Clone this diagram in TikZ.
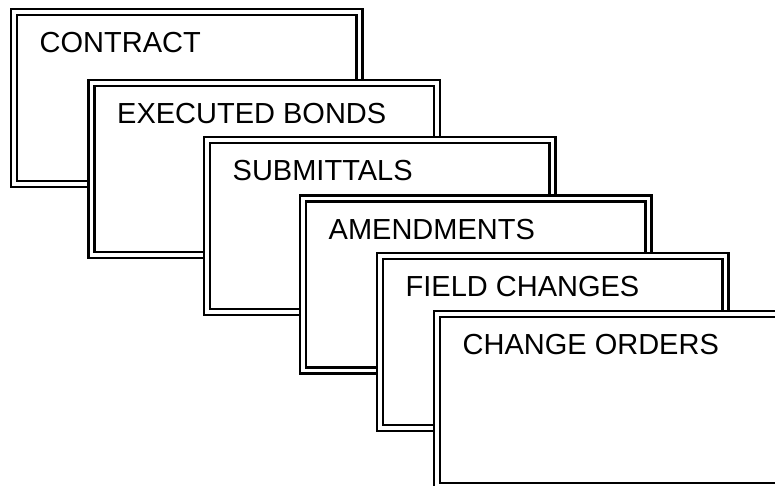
\documentclass[tikz,border=0pt]{standalone}
\usepackage{fontspec}
\setmainfont{Liberation Sans}
\begin{document}
\begin{tikzpicture}[x=1pt,y=-1pt,
  card/.style={draw=black, double=white, double distance=3.8pt, line width=2.2pt,
    fill=white, anchor=north west, minimum width=345.5pt, minimum height=172pt,
    inner sep=0pt, outer sep=0pt},
  cardtext/.style={anchor=base west, inner sep=0pt, font=\fontsize{29}{34}\selectfont}]
\useasboundingbox (0,0) rectangle (775,485);
\clip (0,0) rectangle (775,485);
\node[card] (b1) at (14,12) {};
\node[cardtext] (t1) at ([shift={(25.5pt,-40.5pt)}]b1.north west) {CONTRACT};
\node[card] (b2) at (91.5,83) {};
\node[cardtext] (t2) at ([shift={(25.5pt,-40.5pt)}]b2.north west) {EXECUTED BONDS};
\node[card] (b3) at (207,140) {};
\node[cardtext] (t3) at ([shift={(25.5pt,-40.5pt)}]b3.north west) {SUBMITTALS};
\node[card] (b4) at (303,198.5) {};
\node[cardtext] (t4) at ([shift={(25.5pt,-40.5pt)}]b4.north west) {AMENDMENTS};
\node[card] (b5) at (380,256) {};
\node[cardtext] (t5) at ([shift={(25.5pt,-40.5pt)}]b5.north west) {FIELD CHANGES};
\node[card] (b6) at (437,314) {};
\node[cardtext] (t6) at ([shift={(25.5pt,-40.5pt)}]b6.north west) {CHANGE ORDERS};
\end{tikzpicture}
\end{document}
